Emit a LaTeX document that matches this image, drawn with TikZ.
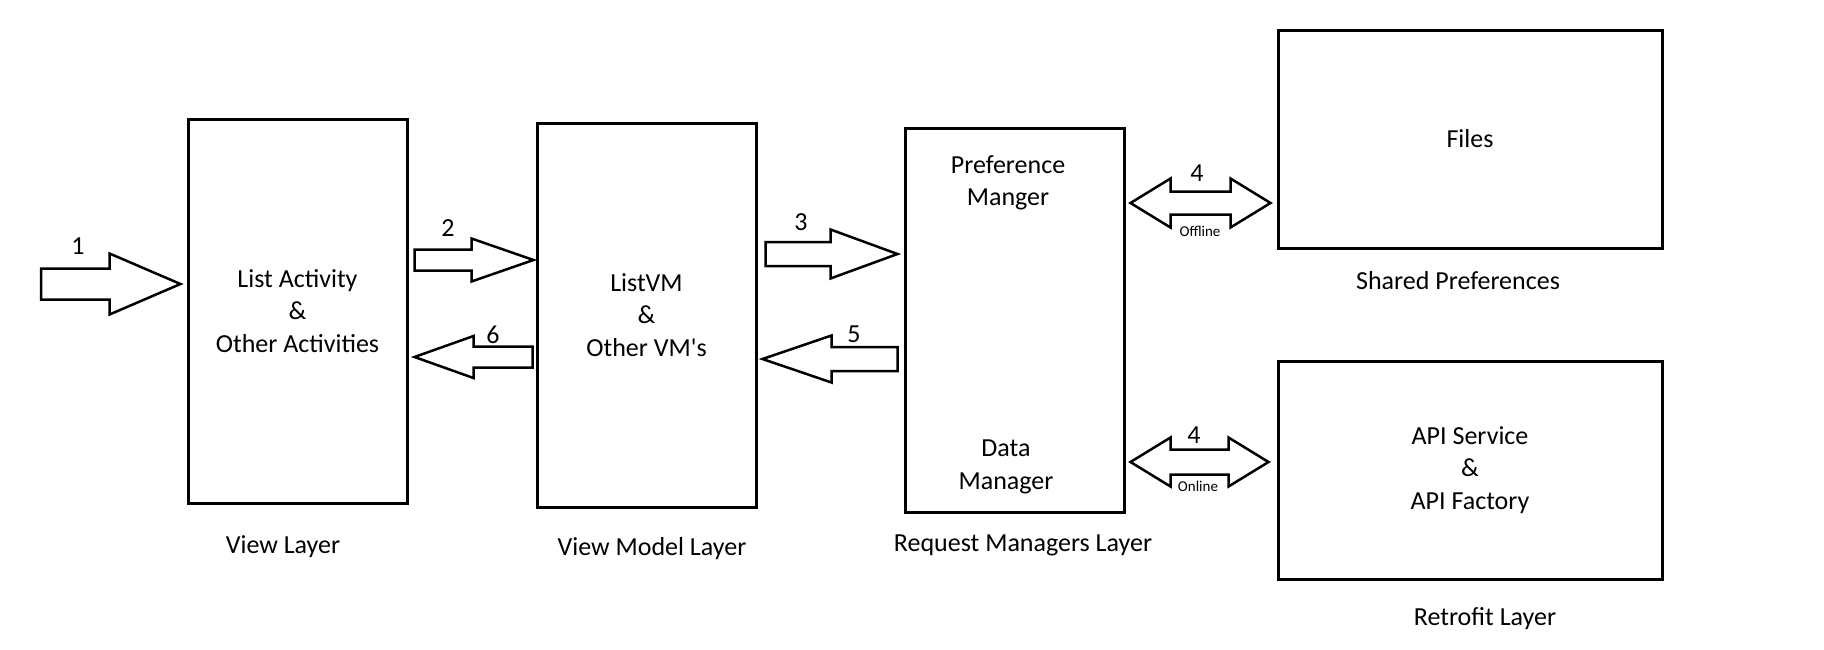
\documentclass[tikz,border=0pt]{standalone}
\usepackage{fontspec}
\setmainfont{Carlito}
\usetikzlibrary{calc}

% block arrow: tail, tip, shaft half width, head half width, head length
\newcommand{\fatarrow}[5]{%
  \coordinate (tip) at (#2);
  \draw[fat] let \p1=(#1), \p2=(tip), \p3=($(tip)!#5pt!(#1)$) in
    (\x1,\y1+#3) -- (\x3,\y1+#3) -- (\x3,\y1+#4) -- (\x2,\y1)
    -- (\x3,\y1-#4) -- (\x3,\y1-#3) -- (\x1,\y1-#3) -- cycle;}
% double block arrow: left tip, right tip, shaft half width, head half width, head length
\newcommand{\dblarrow}[5]{%
  \coordinate (tip) at (#2);
  \draw[fat] let \p1=(#1), \p2=(tip), \p3=($(#1)!#5pt!(tip)$), \p4=($(tip)!#5pt!(#1)$) in
    (\x1,\y1) -- (\x3,\y1+#4) -- (\x3,\y1+#3) -- (\x4,\y1+#3) -- (\x4,\y1+#4) -- (\x2,\y1)
    -- (\x4,\y1-#4) -- (\x4,\y1-#3) -- (\x3,\y1-#3) -- (\x3,\y1-#4) -- cycle;}

\begin{document}
\begin{tikzpicture}[x=1pt,y=-1pt]
\tikzstyle{txt}=[align=center,inner sep=0pt,font=\fontsize{26}{32.5}\selectfont]
\tikzstyle{layer}=[txt,draw,line width=3pt,minimum width=219pt,minimum height=384pt]
\tikzstyle{store}=[layer,minimum width=384pt,minimum height=218pt]
\tikzstyle{fat}=[draw,line width=2.5pt]
\tikzstyle{small}=[inner sep=0pt,font=\fontsize{15}{18}\selectfont]
\useasboundingbox (0,0) rectangle (1824,649);

% layers
\node[layer](view) at (297.5,311) {List Activity\\\&\\Other Activities};
\node[layer](vm) at (646.5,315) {ListVM\\\&\\Other VM\textquotesingle s};
\node[layer](rm) at (1014.5,320) {};
\node[store](files) at (1470,139) {Files};
\node[store](api) at (1470,470) {API Service\\\&\\API Factory};

\node[txt](pm) at (1008,183) {Preference\\Manger};
\node[txt](dm) at (1006,467) {Data\\Manager};

\node[txt](vl) at (283,547) {View Layer};
\node[txt](vml) at (652,549) {View Model Layer};
\node[txt](rml) at (1023,545) {Request Managers Layer};
\node[txt](spl) at (1458,281) {Shared Preferences};
\node[txt](rl) at (1485,619) {Retrofit Layer};

% arrows
\coordinate (in) at (41,284);
\coordinate (s2) at ($(view.east)+(6,-51)$);
\coordinate (s6) at ($(vm.west)+(-3,42)$);
\coordinate (s3) at ($(vm.east)+(8,-61)$);
\coordinate (s5) at ($(rm.west)+(-6,39)$);
\coordinate (o1) at ($(rm.east)+(5,-117)$);
\coordinate (o2) at ($(rm.east)+(5,142)$);

\fatarrow{in}{$(view.west |- in)+(-6,0)$}{15.5}{30.5}{71}
\fatarrow{s2}{$(vm.west |- s2)+(-2,0)$}{10.5}{21.5}{62}
\fatarrow{s6}{$(view.east |- s6)+(6,0)$}{10.5}{21}{59}
\fatarrow{s3}{$(rm.west |- s3)+(-6,0)$}{12}{24.5}{67}
\fatarrow{s5}{$(vm.east |- s5)+(5,0)$}{12}{23.5}{69}
\dblarrow{o1}{$(files.west |- o1)+(-6,0)$}{11.5}{24.5}{40}
\dblarrow{o2}{$(api.west |- o2)+(-8,0)$}{12.5}{24.5}{40}

\node[txt](n1) at (78,246) {1};
\node[txt](n2) at (448,228) {2};
\node[txt](n6) at (493,335) {6};
\node[txt](n3) at (801,222) {3};
\node[txt](n5) at (854,334) {5};
\node[txt](n4a) at (1197,173) {4};
\node[txt](n4b) at (1194,435) {4};
\node[small](off) at (1200,231) {Offline};
\node[small](on) at (1198,486) {Online};
\end{tikzpicture}
\end{document}
